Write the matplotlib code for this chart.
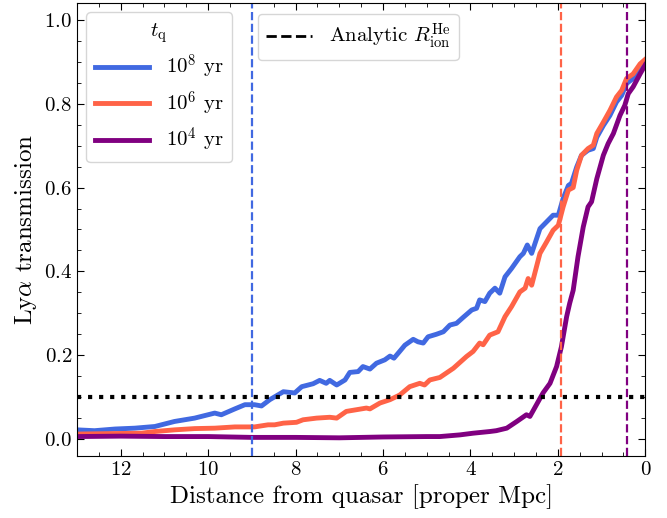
import matplotlib
matplotlib.use('Agg')
import matplotlib.pyplot as plt
from matplotlib.lines import Line2D
from matplotlib.ticker import MultipleLocator

plt.rcParams['font.family'] = 'serif'
plt.rcParams['font.serif'] = ['cmr10']
plt.rcParams['mathtext.fontset'] = 'cm'
plt.rcParams['axes.unicode_minus'] = False
plt.rcParams['axes.formatter.use_mathtext'] = True

# distance from quasar [proper Mpc] and Ly-alpha transmission
dist_1e8 = [13.0, 12.6, 12.13, 11.68, 11.22, 10.77, 10.31, 9.85, 9.7, 9.39, 9.16, 8.94, 8.78,
            8.59, 8.28, 8.02, 7.86, 7.6, 7.45, 7.3, 7.22, 7.06, 6.87, 6.76, 6.57, 6.46, 6.3,
            6.15, 5.96, 5.84, 5.75, 5.62, 5.5, 5.31, 5.2, 5.08, 4.97, 4.78, 4.62, 4.47, 4.32,
            4.17, 3.97, 3.86, 3.79, 3.67, 3.56, 3.44, 3.33, 3.21, 3.06, 2.87, 2.79, 2.70, 2.6,
            2.41, 2.26, 2.11, 1.99, 1.88, 1.76, 1.69, 1.57, 1.46, 1.31, 1.19, 1.11, 0.96, 0.81,
            0.66, 0.54, 0.43, 0.28, 0.12, 0.0]
trans_1e8 = [0.022, 0.020, 0.024, 0.026, 0.030, 0.042, 0.050, 0.062, 0.058, 0.072, 0.082, 0.082, 0.079,
             0.094, 0.113, 0.110, 0.125, 0.132, 0.140, 0.133, 0.140, 0.129, 0.141, 0.159, 0.161, 0.173, 0.167,
             0.181, 0.189, 0.198, 0.193, 0.209, 0.224, 0.238, 0.232, 0.229, 0.244, 0.250, 0.256, 0.272, 0.276,
             0.290, 0.308, 0.312, 0.332, 0.328, 0.348, 0.360, 0.348, 0.387, 0.407, 0.435, 0.443, 0.463, 0.443,
             0.502, 0.518, 0.534, 0.534, 0.574, 0.605, 0.610, 0.649, 0.677, 0.689, 0.693, 0.720, 0.748, 0.772,
             0.804, 0.820, 0.848, 0.860, 0.887, 0.902]

dist_1e6 = [13.0, 12.29, 11.53, 11.22, 10.77, 10.31, 9.85, 9.39, 8.94, 8.63, 8.48, 8.28, 7.98,
            7.83, 7.52, 7.22, 7.06, 6.84, 6.61, 6.38, 6.3, 6.07, 5.84, 5.62, 5.39, 5.16, 5.05,
            4.93, 4.7, 4.39, 4.09, 3.94, 3.79, 3.71, 3.56, 3.37, 3.21, 3.06, 2.87, 2.75, 2.68,
            2.6, 2.41, 2.26, 2.11, 1.99, 1.88, 1.76, 1.65, 1.57, 1.46, 1.31, 1.19, 1.11, 0.96,
            0.81, 0.66, 0.54, 0.43, 0.28, 0.12, 0.0]
trans_1e6 = [0.012, 0.013, 0.014, 0.018, 0.022, 0.025, 0.026, 0.029, 0.029, 0.034, 0.034, 0.038, 0.040,
             0.046, 0.050, 0.052, 0.050, 0.066, 0.070, 0.074, 0.072, 0.086, 0.094, 0.105, 0.125, 0.133, 0.129,
             0.141, 0.147, 0.169, 0.197, 0.209, 0.229, 0.225, 0.248, 0.256, 0.292, 0.316, 0.351, 0.360, 0.383,
             0.367, 0.443, 0.470, 0.498, 0.510, 0.554, 0.594, 0.600, 0.641, 0.677, 0.693, 0.701, 0.729, 0.756,
             0.784, 0.816, 0.832, 0.860, 0.871, 0.895, 0.906]

dist_1e4 = [13.0, 12.0, 11.0, 10.0, 9.0, 8.0, 7.0, 6.0, 5.0, 4.7, 4.24, 3.94, 3.56, 3.41, 3.17,
            2.94, 2.72, 2.64, 2.49, 2.34, 2.18, 2.03, 1.92, 1.8, 1.73, 1.65, 1.54, 1.42, 1.31,
            1.23, 1.11, 0.96, 0.85, 0.73, 0.58, 0.47, 0.39, 0.28, 0.12, 0.0]
trans_1e4 = [0.006, 0.007, 0.006, 0.006, 0.004, 0.004, 0.003, 0.005, 0.006, 0.006, 0.010, 0.014, 0.018, 0.020, 0.026,
             0.042, 0.058, 0.054, 0.082, 0.110, 0.133, 0.173, 0.220, 0.292, 0.324, 0.355, 0.435, 0.506, 0.554,
             0.566, 0.621, 0.677, 0.705, 0.729, 0.772, 0.796, 0.824, 0.840, 0.871, 0.893]

r_ion = [9.0, 1.93, 0.41]
t_threshold = 0.1

c_blue = 'royalblue'
c_orange = 'tomato'
c_purple = 'purple'

fig = plt.figure(figsize=(6.67, 5.18), dpi=100)
ax = fig.add_axes([0.1155, 0.12, 0.852, 0.874])

l1, = ax.plot(dist_1e8, trans_1e8, color=c_blue, lw=3.5)
l2, = ax.plot(dist_1e6, trans_1e6, color=c_orange, lw=3.5)
l3, = ax.plot(dist_1e4, trans_1e4, color=c_purple, lw=3.5)

for r, c in zip(r_ion, [c_blue, c_orange, c_purple]):
    ax.axvline(r, color=c, ls='--', lw=1.6)
ax.axhline(t_threshold, color='k', ls=':', lw=3)

ax.set_xlim(13, 0)
ax.set_ylim(-0.04, 1.04)
ax.xaxis.set_major_locator(MultipleLocator(2))
ax.xaxis.set_minor_locator(MultipleLocator(0.5))
ax.yaxis.set_major_locator(MultipleLocator(0.2))
ax.yaxis.set_minor_locator(MultipleLocator(0.05))
ax.tick_params(which='both', direction='in', top=True, right=True, labelsize=15)
ax.tick_params(which='major', length=5)
ax.tick_params(which='minor', length=3)

ax.set_xlabel('Distance from quasar [proper Mpc]', fontsize=18)
ax.set_ylabel(r'Ly$\alpha$ transmission', fontsize=18)

leg1 = ax.legend([l1, l2, l3], [r'$10^8$ yr', r'$10^6$ yr', r'$10^4$ yr'],
                 title=r'$t_{\rm q}$', loc='upper left', fontsize=15,
                 title_fontsize=15, handlelength=2.6, labelspacing=0.4,
                 borderaxespad=0.45)
ax.add_artist(leg1)
proxy = Line2D([], [], color='k', ls='--', lw=2)
ax.legend([proxy], [r'Analytic $R_{\rm ion}^{\rm He}$'], loc='upper left',
          bbox_to_anchor=(0.3, 1.0), fontsize=15, handlelength=2.2)

fig.savefig('out.png', dpi=100)
